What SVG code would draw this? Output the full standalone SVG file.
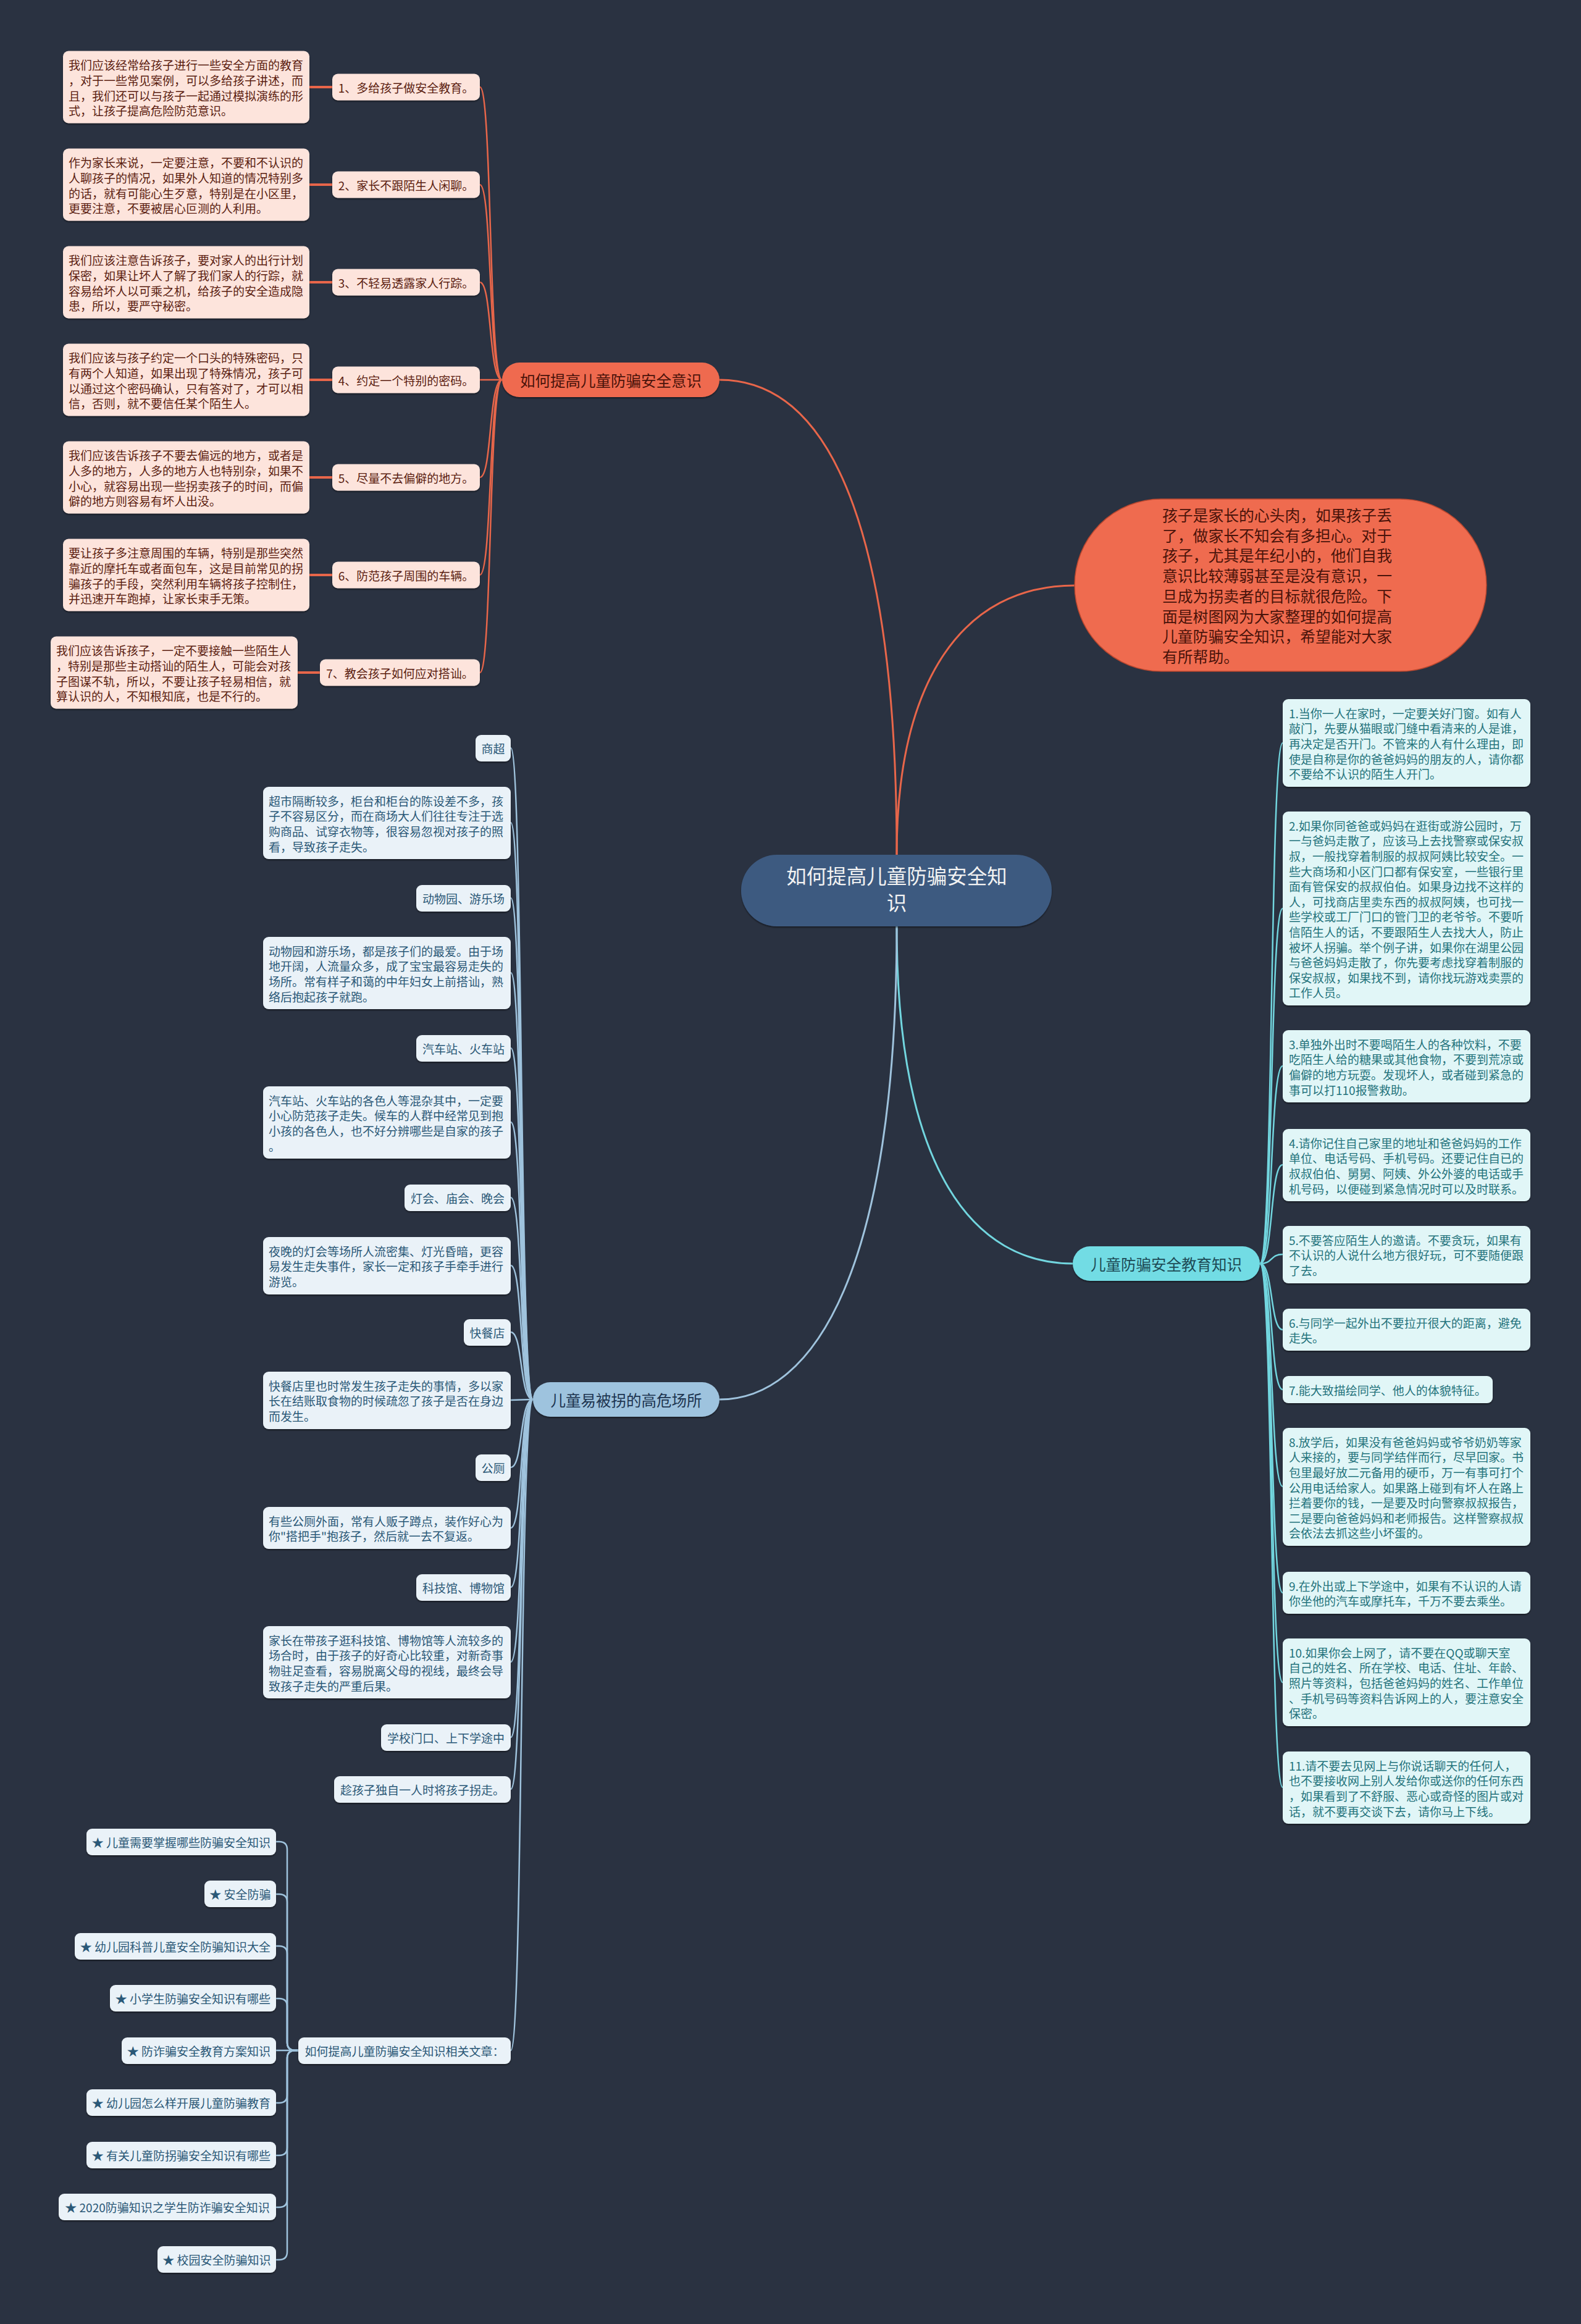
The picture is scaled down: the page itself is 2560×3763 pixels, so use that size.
<svg xmlns="http://www.w3.org/2000/svg" width="2560" height="3763" viewBox="0 0 2560 3763">
<defs>
<filter id="sh" x="-5%" y="-20%" width="110%" height="150%">
<feDropShadow dx="0" dy="2" stdDeviation="1.2" flood-color="#000" flood-opacity="0.45"/>
</filter>
</defs>
<style>
text{font-family:"Noto Sans CJK SC","Liberation Sans",sans-serif;dominant-baseline:central}
.t19{font-size:19px}
.ob{fill:#fde4dc}
.ot{fill:#5b1d10}
.cb{fill:#e1f6f7}
.ct{fill:#24737c}
.bb{fill:#eaf2f8}
.bt{fill:#2a5877}
.ol{fill:none;stroke:#e8664a;stroke-width:2.5}
.oll{fill:none;stroke:#e8664a;stroke-width:4}
.cl{fill:none;stroke:#72d6df;stroke-width:2.5}
.bl{fill:none;stroke:#9fc3dd;stroke-width:2.5}
.box{filter:url(#sh)}
.m{text-anchor:middle}
</style>
<rect x="0" y="0" width="2560" height="3763" fill="#2a3241"/>

<g id="connectors">
<path class="ol" style="stroke-width:3" d="M1452,1384 C1452,900 1360,615 1165,615"/>
<path class="ol" style="stroke-width:3" d="M1452,1384 C1452,1100 1560,948 1740,948"/>
<path class="cl" style="stroke-width:3" d="M1452,1500 C1452,1900 1580,2046 1737,2046"/>
<path class="bl" style="stroke-width:3" d="M1452,1500 C1452,2050 1320,2266 1165,2266"/>
<path class="ol" d="M777,141 C797,141 791,615 813,615"/>
<path class="ol" d="M777,299 C797,299 791,615 813,615"/>
<path class="ol" d="M777,457 C797,457 791,615 813,615"/>
<path class="ol" d="M777,615 L813,615"/>
<path class="ol" d="M777,773 C797,773 791,615 813,615"/>
<path class="ol" d="M777,931 C797,931 791,615 813,615"/>
<path class="ol" d="M777,1089 C797,1089 791,615 813,615"/>
<path class="oll" d="M501,141 H538 M501,299 H538 M501,457 H538 M501,615 H538 M501,773 H538 M501,931 H538 M482,1089 H518"/>
<path class="cl" d="M2040,2046 C2062,2046 2056,1203 2077,1203"/>
<path class="cl" d="M2040,2046 C2062,2046 2056,1471 2077,1471"/>
<path class="cl" d="M2040,2046 C2062,2046 2056,1726 2077,1726"/>
<path class="cl" d="M2040,2046 C2062,2046 2056,1886 2077,1886"/>
<path class="cl" d="M2040,2046 C2062,2046 2056,2031 2077,2031"/>
<path class="cl" d="M2040,2046 C2062,2046 2056,2153 2077,2153"/>
<path class="cl" d="M2040,2046 C2062,2046 2056,2250 2077,2250"/>
<path class="cl" d="M2040,2046 C2062,2046 2056,2407 2077,2407"/>
<path class="cl" d="M2040,2046 C2062,2046 2056,2579 2077,2579"/>
<path class="cl" d="M2040,2046 C2062,2046 2056,2724 2077,2724"/>
<path class="cl" d="M2040,2046 C2062,2046 2056,2894 2077,2894"/>
<path class="bl" d="M827,1211 C847,1211 841,2266 863,2266"/>
<path class="bl" d="M827,1332 C847,1332 841,2266 863,2266"/>
<path class="bl" d="M827,1454 C847,1454 841,2266 863,2266"/>
<path class="bl" d="M827,1575 C847,1575 841,2266 863,2266"/>
<path class="bl" d="M827,1697 C847,1697 841,2266 863,2266"/>
<path class="bl" d="M827,1817 C847,1817 841,2266 863,2266"/>
<path class="bl" d="M827,1939 C847,1939 841,2266 863,2266"/>
<path class="bl" d="M827,2049 C847,2049 841,2266 863,2266"/>
<path class="bl" d="M827,2157 C847,2157 841,2266 863,2266"/>
<path class="bl" d="M827,2267 C847,2267 841,2266 863,2266"/>
<path class="bl" d="M827,2376 C847,2376 841,2266 863,2266"/>
<path class="bl" d="M827,2474 C847,2474 841,2266 863,2266"/>
<path class="bl" d="M827,2570 C847,2570 841,2266 863,2266"/>
<path class="bl" d="M827,2691 C847,2691 841,2266 863,2266"/>
<path class="bl" d="M827,2813 C847,2813 841,2266 863,2266"/>
<path class="bl" d="M827,2897 C847,2897 841,2266 863,2266"/>
<path class="bl" d="M827,3320 C847,3320 841,2266 863,2266"/>
<path class="bl" d="M447,2982 H452 Q465,2982 465,2995 V3307 Q465,3320 478,3320 H483"/>
<path class="bl" d="M447,3067 H452 Q465,3067 465,3080 V3307 Q465,3320 478,3320 H483"/>
<path class="bl" d="M447,3151 H452 Q465,3151 465,3164 V3307 Q465,3320 478,3320 H483"/>
<path class="bl" d="M447,3236 H452 Q465,3236 465,3249 V3307 Q465,3320 478,3320 H483"/>
<path class="bl" d="M447,3320 H483"/>
<path class="bl" d="M447,3405 H452 Q465,3405 465,3392 V3333 Q465,3320 478,3320 H483"/>
<path class="bl" d="M447,3490 H452 Q465,3490 465,3477 V3333 Q465,3320 478,3320 H483"/>
<path class="bl" d="M447,3574 H452 Q465,3574 465,3561 V3333 Q465,3320 478,3320 H483"/>
<path class="bl" d="M447,3659 H452 Q465,3659 465,3646 V3333 Q465,3320 478,3320 H483"/>
</g>

<g id="center">
<rect class="box" x="1200" y="1384" width="503" height="116" rx="58" fill="#3d5a80"/>
<text class="m" x="1452" y="1416" font-size="32.5" fill="#f2f2f2">如何提高儿童防骗安全知</text>
<text class="m" x="1452" y="1459" font-size="32.5" fill="#f2f2f2">识</text>
</g>

<g id="intro">
<rect x="1740" y="808" width="667" height="279" rx="140" ry="139.5" fill="#ef6b4f" stroke="#b9472f" stroke-width="1.5"/>
<text x="1882" font-size="24.8" fill="#4a130a">
<tspan x="1882" y="833">孩子是家长的心头肉，如果孩子丢</tspan>
<tspan x="1882" y="865.7">了，做家长不知会有多担心。对于</tspan>
<tspan x="1882" y="898.4">孩子，尤其是年纪小的，他们自我</tspan>
<tspan x="1882" y="931.1">意识比较薄弱甚至是没有意识，一</tspan>
<tspan x="1882" y="963.8">旦成为拐卖者的目标就很危险。下</tspan>
<tspan x="1882" y="996.5">面是树图网为大家整理的如何提高</tspan>
<tspan x="1882" y="1029.2">儿童防骗安全知识，希望能对大家</tspan>
<tspan x="1882" y="1061.9">有所帮助。</tspan>
</text>
</g>

<g id="branch-awareness">
<rect class="box" x="813" y="587" width="352" height="56" rx="28" fill="#ef6b4f"/>
<text class="m" x="989" y="615" font-size="24.5" fill="#4a130a">如何提高儿童防骗安全意识</text>
</g>

<g id="aw-1">
<rect class="box ob" x="538" y="119.5" width="239" height="43" rx="9"/>
<text class="t19 ot m" x="657.5" y="141">1、多给孩子做安全教育。</text>
<rect class="box ob" x="102" y="82.5" width="399" height="117" rx="9"/>
<text class="t19 ot"><tspan x="111" y="104.3">我们应该经常给孩子进行一些安全方面的教育</tspan><tspan x="111" y="128.9">，对于一些常见案例，可以多给孩子讲述，而</tspan><tspan x="111" y="153.5">且，我们还可以与孩子一起通过模拟演练的形</tspan><tspan x="111" y="178.1">式，让孩子提高危险防范意识。</tspan></text>
</g>
<g id="aw-2">
<rect class="box ob" x="538" y="277.5" width="239" height="43" rx="9"/>
<text class="t19 ot m" x="657.5" y="299">2、家长不跟陌生人闲聊。</text>
<rect class="box ob" x="102" y="240.5" width="399" height="117" rx="9"/>
<text class="t19 ot"><tspan x="111" y="262.3">作为家长来说，一定要注意，不要和不认识的</tspan><tspan x="111" y="286.9">人聊孩子的情况，如果外人知道的情况特别多</tspan><tspan x="111" y="311.5">的话，就有可能心生歹意，特别是在小区里，</tspan><tspan x="111" y="336.1">更要注意，不要被居心叵测的人利用。</tspan></text>
</g>
<g id="aw-3">
<rect class="box ob" x="538" y="435.5" width="239" height="43" rx="9"/>
<text class="t19 ot m" x="657.5" y="457">3、不轻易透露家人行踪。</text>
<rect class="box ob" x="102" y="398.5" width="399" height="117" rx="9"/>
<text class="t19 ot"><tspan x="111" y="420.3">我们应该注意告诉孩子，要对家人的出行计划</tspan><tspan x="111" y="444.9">保密，如果让坏人了解了我们家人的行踪，就</tspan><tspan x="111" y="469.5">容易给坏人以可乘之机，给孩子的安全造成隐</tspan><tspan x="111" y="494.1">患，所以，要严守秘密。</tspan></text>
</g>
<g id="aw-4">
<rect class="box ob" x="538" y="593.5" width="239" height="43" rx="9"/>
<text class="t19 ot m" x="657.5" y="615">4、约定一个特别的密码。</text>
<rect class="box ob" x="102" y="556.5" width="399" height="117" rx="9"/>
<text class="t19 ot"><tspan x="111" y="578.3">我们应该与孩子约定一个口头的特殊密码，只</tspan><tspan x="111" y="602.9">有两个人知道，如果出现了特殊情况，孩子可</tspan><tspan x="111" y="627.5">以通过这个密码确认，只有答对了，才可以相</tspan><tspan x="111" y="652.1">信，否则，就不要信任某个陌生人。</tspan></text>
</g>
<g id="aw-5">
<rect class="box ob" x="538" y="751.5" width="239" height="43" rx="9"/>
<text class="t19 ot m" x="657.5" y="773">5、尽量不去偏僻的地方。</text>
<rect class="box ob" x="102" y="714.5" width="399" height="117" rx="9"/>
<text class="t19 ot"><tspan x="111" y="736.3">我们应该告诉孩子不要去偏远的地方，或者是</tspan><tspan x="111" y="760.9">人多的地方，人多的地方人也特别杂，如果不</tspan><tspan x="111" y="785.5">小心，就容易出现一些拐卖孩子的时间，而偏</tspan><tspan x="111" y="810.1">僻的地方则容易有坏人出没。</tspan></text>
</g>
<g id="aw-6">
<rect class="box ob" x="538" y="909.5" width="239" height="43" rx="9"/>
<text class="t19 ot m" x="657.5" y="931">6、防范孩子周围的车辆。</text>
<rect class="box ob" x="102" y="872.5" width="399" height="117" rx="9"/>
<text class="t19 ot"><tspan x="111" y="894.3">要让孩子多注意周围的车辆，特别是那些突然</tspan><tspan x="111" y="918.9">靠近的摩托车或者面包车，这是目前常见的拐</tspan><tspan x="111" y="943.5">骗孩子的手段，突然利用车辆将孩子控制住，</tspan><tspan x="111" y="968.1">并迅速开车跑掉，让家长束手无策。</tspan></text>
</g>
<g id="aw-7">
<rect class="box ob" x="518" y="1067.5" width="259" height="43" rx="9"/>
<text class="t19 ot m" x="647.5" y="1089">7、教会孩子如何应对搭讪。</text>
<rect class="box ob" x="82" y="1030.5" width="400" height="117" rx="9"/>
<text class="t19 ot"><tspan x="91" y="1052.3">我们应该告诉孩子，一定不要接触一些陌生人</tspan><tspan x="91" y="1076.9">，特别是那些主动搭讪的陌生人，可能会对孩</tspan><tspan x="91" y="1101.5">子图谋不轨，所以，不要让孩子轻易相信，就</tspan><tspan x="91" y="1126.1">算认识的人，不知根知底，也是不行的。</tspan></text>
</g>

<g id="branch-knowledge">
<rect class="box" x="1737" y="2018" width="303" height="56" rx="28" fill="#72dce4"/>
<text class="m" x="1888.5" y="2046" font-size="24.5" fill="#1d4a55">儿童防骗安全教育知识</text>
</g>

<g id="kn-1">
<rect class="box cb" x="2077" y="1132" width="401" height="142" rx="9"/>
<text class="t19 ct"><tspan x="2087" y="1153.8">1.当你一人在家时，一定要关好门窗。如有人</tspan><tspan x="2087" y="1178.4">敲门，先要从猫眼或门缝中看清来的人是谁，</tspan><tspan x="2087" y="1203">再决定是否开门。不管来的人有什么理由，即</tspan><tspan x="2087" y="1227.6">使是自称是你的爸爸妈妈的朋友的人，请你都</tspan><tspan x="2087" y="1252.2">不要给不认识的陌生人开门。</tspan></text>
</g>
<g id="kn-2">
<rect class="box cb" x="2077" y="1314" width="401" height="314" rx="9"/>
<text class="t19 ct"><tspan x="2087" y="1335.8">2.如果你同爸爸或妈妈在逛街或游公园时，万</tspan><tspan x="2087" y="1360.4">一与爸妈走散了，应该马上去找警察或保安叔</tspan><tspan x="2087" y="1385">叔，一般找穿着制服的叔叔阿姨比较安全。一</tspan><tspan x="2087" y="1409.6">些大商场和小区门口都有保安室，一些银行里</tspan><tspan x="2087" y="1434.2">面有管保安的叔叔伯伯。如果身边找不这样的</tspan><tspan x="2087" y="1458.8">人，可找商店里卖东西的叔叔阿姨，也可找一</tspan><tspan x="2087" y="1483.4">些学校或工厂门口的管门卫的老爷爷。不要听</tspan><tspan x="2087" y="1508">信陌生人的话，不要跟陌生人去找大人，防止</tspan><tspan x="2087" y="1532.6">被坏人拐骗。举个例子讲，如果你在湖里公园</tspan><tspan x="2087" y="1557.2">与爸爸妈妈走散了，你先要考虑找穿着制服的</tspan><tspan x="2087" y="1581.8">保安叔叔，如果找不到，请你找玩游戏卖票的</tspan><tspan x="2087" y="1606.4">工作人员。</tspan></text>
</g>
<g id="kn-3">
<rect class="box cb" x="2077" y="1668" width="401" height="117" rx="9"/>
<text class="t19 ct"><tspan x="2087" y="1689.8">3.单独外出时不要喝陌生人的各种饮料，不要</tspan><tspan x="2087" y="1714.4">吃陌生人给的糖果或其他食物，不要到荒凉或</tspan><tspan x="2087" y="1739">偏僻的地方玩耍。发现坏人，或者碰到紧急的</tspan><tspan x="2087" y="1763.6">事可以打110报警救助。</tspan></text>
</g>
<g id="kn-4">
<rect class="box cb" x="2077" y="1828" width="401" height="117" rx="9"/>
<text class="t19 ct"><tspan x="2087" y="1849.8">4.请你记住自己家里的地址和爸爸妈妈的工作</tspan><tspan x="2087" y="1874.4">单位、电话号码、手机号码。还要记住自已的</tspan><tspan x="2087" y="1899">叔叔伯伯、舅舅、阿姨、外公外婆的电话或手</tspan><tspan x="2087" y="1923.6">机号码，以便碰到紧急情况时可以及时联系。</tspan></text>
</g>
<g id="kn-5">
<rect class="box cb" x="2077" y="1985" width="401" height="93" rx="9"/>
<text class="t19 ct"><tspan x="2087" y="2006.8">5.不要答应陌生人的邀请。不要贪玩，如果有</tspan><tspan x="2087" y="2031.4">不认识的人说什么地方很好玩，可不要随便跟</tspan><tspan x="2087" y="2056">了去。</tspan></text>
</g>
<g id="kn-6">
<rect class="box cb" x="2077" y="2119" width="401" height="68" rx="9"/>
<text class="t19 ct"><tspan x="2087" y="2140.8">6.与同学一起外出不要拉开很大的距离，避免</tspan><tspan x="2087" y="2165.4">走失。</tspan></text>
</g>
<g id="kn-7">
<rect class="box cb" x="2077" y="2228" width="340" height="44" rx="9"/>
<text class="t19 ct" x="2087" y="2250">7.能大致描绘同学、他人的体貌特征。</text>
</g>
<g id="kn-8">
<rect class="box cb" x="2077" y="2312" width="401" height="191" rx="9"/>
<text class="t19 ct"><tspan x="2087" y="2333.8">8.放学后，如果没有爸爸妈妈或爷爷奶奶等家</tspan><tspan x="2087" y="2358.4">人来接的，要与同学结伴而行，尽早回家。书</tspan><tspan x="2087" y="2383">包里最好放二元备用的硬币，万一有事可打个</tspan><tspan x="2087" y="2407.6">公用电话给家人。如果路上碰到有坏人在路上</tspan><tspan x="2087" y="2432.2">拦着要你的钱，一是要及时向警察叔叔报告，</tspan><tspan x="2087" y="2456.8">二是要向爸爸妈妈和老师报告。这样警察叔叔</tspan><tspan x="2087" y="2481.4">会依法去抓这些小坏蛋的。</tspan></text>
</g>
<g id="kn-9">
<rect class="box cb" x="2077" y="2545" width="401" height="68" rx="9"/>
<text class="t19 ct"><tspan x="2087" y="2566.8">9.在外出或上下学途中，如果有不认识的人请</tspan><tspan x="2087" y="2591.4">你坐他的汽车或摩托车，千万不要去乘坐。</tspan></text>
</g>
<g id="kn-10">
<rect class="box cb" x="2077" y="2653" width="401" height="142" rx="9"/>
<text class="t19 ct"><tspan x="2087" y="2674.8">10.如果你会上网了，请不要在QQ或聊天室</tspan><tspan x="2087" y="2699.4">自己的姓名、所在学校、电话、住址、年龄、</tspan><tspan x="2087" y="2724">照片等资料，包括爸爸妈妈的姓名、工作单位</tspan><tspan x="2087" y="2748.6">、手机号码等资料告诉网上的人，要注意安全</tspan><tspan x="2087" y="2773.2">保密。</tspan></text>
</g>
<g id="kn-11">
<rect class="box cb" x="2077" y="2836" width="401" height="117" rx="9"/>
<text class="t19 ct"><tspan x="2087" y="2857.8">11.请不要去见网上与你说话聊天的任何人，</tspan><tspan x="2087" y="2882.4">也不要接收网上别人发给你或送你的任何东西</tspan><tspan x="2087" y="2907">，如果看到了不舒服、恶心或奇怪的图片或对</tspan><tspan x="2087" y="2931.6">话，就不要再交谈下去，请你马上下线。</tspan></text>
</g>

<g id="branch-places">
<rect class="box" x="863" y="2238" width="302" height="56" rx="28" fill="#9ec3de"/>
<text class="m" x="1014" y="2266" font-size="24.5" fill="#1d3550">儿童易被拐的高危场所</text>
</g>

<g id="pl-1">
<rect class="box bb" x="770" y="1190" width="57" height="43" rx="9"/>
<text class="t19 bt m" x="798.5" y="1211.5">商超</text>
</g>
<g id="pl-1d">
<rect class="box bb" x="426" y="1274" width="401" height="117" rx="9"/>
<text class="t19 bt"><tspan x="435" y="1295.8">超市隔断较多，柜台和柜台的陈设差不多，孩</tspan><tspan x="435" y="1320.4">子不容易区分，而在商场大人们往往专注于选</tspan><tspan x="435" y="1345">购商品、试穿衣物等，很容易忽视对孩子的照</tspan><tspan x="435" y="1369.6">看，导致孩子走失。</tspan></text>
</g>
<g id="pl-2">
<rect class="box bb" x="674" y="1433" width="153" height="43" rx="9"/>
<text class="t19 bt m" x="750.5" y="1454.5">动物园、游乐场</text>
</g>
<g id="pl-2d">
<rect class="box bb" x="426" y="1517" width="401" height="117" rx="9"/>
<text class="t19 bt"><tspan x="435" y="1538.8">动物园和游乐场，都是孩子们的最爱。由于场</tspan><tspan x="435" y="1563.4">地开阔，人流量众多，成了宝宝最容易走失的</tspan><tspan x="435" y="1588">场所。常有样子和蔼的中年妇女上前搭讪，熟</tspan><tspan x="435" y="1612.6">络后抱起孩子就跑。</tspan></text>
</g>
<g id="pl-3">
<rect class="box bb" x="674" y="1676" width="153" height="43" rx="9"/>
<text class="t19 bt m" x="750.5" y="1697.5">汽车站、火车站</text>
</g>
<g id="pl-3d">
<rect class="box bb" x="426" y="1759" width="401" height="117" rx="9"/>
<text class="t19 bt"><tspan x="435" y="1780.8">汽车站、火车站的各色人等混杂其中，一定要</tspan><tspan x="435" y="1805.4">小心防范孩子走失。候车的人群中经常见到抱</tspan><tspan x="435" y="1830">小孩的各色人，也不好分辨哪些是自家的孩子</tspan><tspan x="435" y="1854.6">。</tspan></text>
</g>
<g id="pl-4">
<rect class="box bb" x="655" y="1918" width="172" height="43" rx="9"/>
<text class="t19 bt m" x="741" y="1939.5">灯会、庙会、晚会</text>
</g>
<g id="pl-4d">
<rect class="box bb" x="426" y="2003" width="401" height="93" rx="9"/>
<text class="t19 bt"><tspan x="435" y="2024.8">夜晚的灯会等场所人流密集、灯光昏暗，更容</tspan><tspan x="435" y="2049.4">易发生走失事件，家长一定和孩子手牵手进行</tspan><tspan x="435" y="2074">游览。</tspan></text>
</g>
<g id="pl-5">
<rect class="box bb" x="751" y="2136" width="76" height="43" rx="9"/>
<text class="t19 bt m" x="789" y="2157.5">快餐店</text>
</g>
<g id="pl-5d">
<rect class="box bb" x="426" y="2221" width="401" height="93" rx="9"/>
<text class="t19 bt"><tspan x="435" y="2242.8">快餐店里也时常发生孩子走失的事情，多以家</tspan><tspan x="435" y="2267.4">长在结账取食物的时候疏忽了孩子是否在身边</tspan><tspan x="435" y="2292">而发生。</tspan></text>
</g>
<g id="pl-6">
<rect class="box bb" x="770" y="2355" width="57" height="43" rx="9"/>
<text class="t19 bt m" x="798.5" y="2376.5">公厕</text>
</g>
<g id="pl-6d">
<rect class="box bb" x="426" y="2440" width="401" height="68" rx="9"/>
<text class="t19 bt"><tspan x="435" y="2461.8">有些公厕外面，常有人贩子蹲点，装作好心为</tspan><tspan x="435" y="2486.4">你"搭把手"抱孩子，然后就一去不复返。</tspan></text>
</g>
<g id="pl-7">
<rect class="box bb" x="674" y="2549" width="153" height="43" rx="9"/>
<text class="t19 bt m" x="750.5" y="2570.5">科技馆、博物馆</text>
</g>
<g id="pl-7d">
<rect class="box bb" x="426" y="2633" width="401" height="117" rx="9"/>
<text class="t19 bt"><tspan x="435" y="2654.8">家长在带孩子逛科技馆、博物馆等人流较多的</tspan><tspan x="435" y="2679.4">场合时，由于孩子的好奇心比较重，对新奇事</tspan><tspan x="435" y="2704">物驻足查看，容易脱离父母的视线，最终会导</tspan><tspan x="435" y="2728.6">致孩子走失的严重后果。</tspan></text>
</g>
<g id="pl-8">
<rect class="box bb" x="617" y="2792" width="210" height="43" rx="9"/>
<text class="t19 bt m" x="722" y="2813.5">学校门口、上下学途中</text>
</g>
<g id="pl-8d">
<rect class="box bb" x="541" y="2876" width="286" height="43" rx="9"/>
<text class="t19 bt m" x="684" y="2897.5">趁孩子独自一人时将孩子拐走。</text>
</g>
<g id="related">
<rect class="box bb" x="483" y="3299" width="344" height="43" rx="9"/>
<text class="t19 bt m" x="655" y="3320.5">如何提高儿童防骗安全知识相关文章：</text>
</g>

<g id="rel-1"><rect class="box bb" x="140" y="2961" width="307" height="43" rx="9"/><text class="t19 bt m" x="293.5" y="2982.5">★ 儿童需要掌握哪些防骗安全知识</text></g>
<g id="rel-2"><rect class="box bb" x="331" y="3045" width="116" height="43" rx="9"/><text class="t19 bt m" x="389" y="3066.5">★ 安全防骗</text></g>
<g id="rel-3"><rect class="box bb" x="121" y="3130" width="326" height="43" rx="9"/><text class="t19 bt m" x="284" y="3151.5">★ 幼儿园科普儿童安全防骗知识大全</text></g>
<g id="rel-4"><rect class="box bb" x="178" y="3214" width="269" height="43" rx="9"/><text class="t19 bt m" x="312.5" y="3235.5">★ 小学生防骗安全知识有哪些</text></g>
<g id="rel-5"><rect class="box bb" x="197" y="3299" width="250" height="43" rx="9"/><text class="t19 bt m" x="322" y="3320.5">★ 防诈骗安全教育方案知识</text></g>
<g id="rel-6"><rect class="box bb" x="140" y="3383" width="307" height="43" rx="9"/><text class="t19 bt m" x="293.5" y="3404.5">★ 幼儿园怎么样开展儿童防骗教育</text></g>
<g id="rel-7"><rect class="box bb" x="140" y="3468" width="307" height="43" rx="9"/><text class="t19 bt m" x="293.5" y="3489.5">★ 有关儿童防拐骗安全知识有哪些</text></g>
<g id="rel-8"><rect class="box bb" x="95" y="3552" width="352" height="43" rx="9"/><text class="t19 bt m" x="271" y="3573.5">★ 2020防骗知识之学生防诈骗安全知识</text></g>
<g id="rel-9"><rect class="box bb" x="255" y="3637" width="192" height="43" rx="9"/><text class="t19 bt m" x="351" y="3658.5">★ 校园安全防骗知识</text></g>
</svg>
